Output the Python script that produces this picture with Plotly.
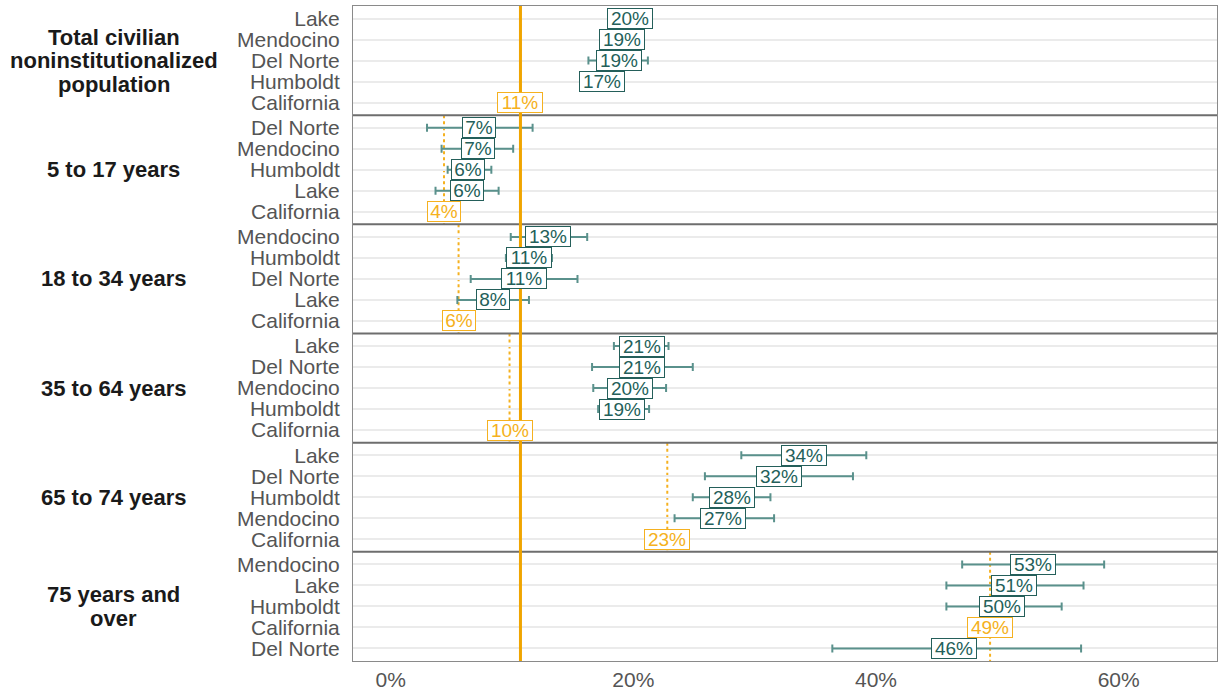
import plotly.graph_objects as go

# Grupos (paneles) de arriba hacia abajo; cada elemento es una lista de lineas
groups = [
    ["Total civilian", "noninstitutionalized", "population"],
    ["5 to 17 years"],
    ["18 to 34 years"],
    ["35 to 64 years"],
    ["65 to 74 years"],
    ["75 years and", "over"],
]

# Condados por panel (orden de arriba hacia abajo)
counties = [
    ["Lake", "Mendocino", "Del Norte", "Humboldt", "California"],
    ["Del Norte", "Mendocino", "Humboldt", "Lake", "California"],
    ["Mendocino", "Humboldt", "Del Norte", "Lake", "California"],
    ["Lake", "Del Norte", "Mendocino", "Humboldt", "California"],
    ["Lake", "Del Norte", "Humboldt", "Mendocino", "California"],
    ["Mendocino", "Lake", "Humboldt", "California", "Del Norte"],
]

# Estimaciones (%)
estimates = [
    [19.7, 19.1, 18.8, 17.4, 10.7],
    [7.3, 7.2, 6.4, 6.3, 4.4],
    [13.0, 11.4, 11.0, 8.4, 5.6],
    [20.7, 20.7, 19.7, 19.1, 9.8],
    [34.1, 32.0, 28.1, 27.4, 22.8],
    [52.9, 51.4, 50.4, 49.4, 46.4],
]

# Limites inferiores y superiores del margen de error (None = sin barra)
lower = [
    [19.0, 18.4, 16.3, 16.8, None],
    [3.0, 4.2, 4.7, 3.7, None],
    [9.9, 9.5, 6.6, 5.5, None],
    [18.4, 16.6, 16.7, 17.1, None],
    [28.9, 25.9, 24.9, 23.4, None],
    [47.1, 45.8, 45.8, None, 36.4],
]
upper = [
    [20.4, 19.8, 21.2, 18.0, None],
    [11.7, 10.1, 8.3, 8.9, None],
    [16.2, 13.3, 15.4, 11.4, None],
    [22.9, 24.9, 22.7, 21.3, None],
    [39.2, 38.1, 31.3, 31.6, None],
    [58.8, 57.1, 55.3, None, 56.9],
]

state_total = 10.7
x_ticks = [0, 20, 40, 60]

TEAL = "#245f5a"
TEAL_BAR = "#5a918c"
ORANGE = "#F5B120"
ORANGE_LINE = "#F0A500"
FONT = "Liberation Sans"

PANEL = 5.2  # altura de cada panel en unidades del eje y
LINE_H = 23.5  # interlineado de las etiquetas de grupo (px)

fig = go.Figure()
shapes = []
annotations = []
tickvals, ticktext = [], []
bx, by, bplus, bminus = [], [], [], []

for k, grp in enumerate(groups):
    top = k * PANEL
    for i, (name, est, lo, hi) in enumerate(zip(counties[k], estimates[k], lower[k], upper[k])):
        y = top + 0.6 + i
        tickvals.append(y)
        ticktext.append(name)
        is_ca = name == "California"
        if lo is not None:
            bx.append(est)
            by.append(y)
            bplus.append(hi - est)
            bminus.append(est - lo)
        if is_ca:
            shapes.append(dict(type="line", xref="x", yref="y", x0=est, x1=est,
                               y0=top, y1=top + PANEL, layer="below",
                               line=dict(color=ORANGE, width=2, dash="dot")))
        label = f"{round(est)}%"
        annotations.append(dict(
            x=est, y=y, xref="x", yref="y", text=label,
            showarrow=False, font=dict(family=FONT, size=19, color=ORANGE if is_ca else TEAL),
            bgcolor="white", bordercolor=ORANGE if is_ca else TEAL,
            borderwidth=1, borderpad=0,
            width=12 * (len(label) - 1) + 20, height=19,
        ))
    n = len(grp)
    for j, line in enumerate(grp):
        annotations.append(dict(
            x=-0.277, y=top + PANEL / 2, xref="paper", yref="y", text=f"<b>{line}</b>",
            showarrow=False, xanchor="center", yanchor="middle",
            yshift=((n - 1) / 2 - j) * LINE_H,
            font=dict(family=FONT, size=22, color="#1a1a1a"),
        ))
    if k > 0:
        shapes.append(dict(type="line", xref="paper", yref="y", x0=0, x1=1,
                           y0=top, y1=top, line=dict(color="#6e6e6e", width=2)))

shapes.append(dict(type="line", xref="x", yref="paper", x0=state_total, x1=state_total,
                   y0=0, y1=1, line=dict(color=ORANGE_LINE, width=3)))

fig.add_trace(go.Scatter(
    x=bx, y=by, mode="markers",
    marker=dict(size=1, color="rgba(0,0,0,0)"),
    error_x=dict(type="data", symmetric=False, array=bplus, arrayminus=bminus,
                 color=TEAL_BAR, thickness=2, width=4),
    hoverinfo="skip", showlegend=False,
))

fig.update_layout(
    width=1219, height=692,
    margin=dict(l=353, r=2, t=6, b=31),
    plot_bgcolor="white", paper_bgcolor="white",
    shapes=shapes, annotations=annotations,
    showlegend=False,
    font=dict(family=FONT),
)
fig.update_xaxes(
    range=[-3.1, 68.1], tickvals=x_ticks, ticktext=[f"{t}%" for t in x_ticks],
    showgrid=False, zeroline=False, showline=True, mirror=True, linecolor="#8a8a8a",
    tickfont=dict(size=21, color="#555555"), ticks="",
)
fig.update_yaxes(
    range=[len(groups) * PANEL, 0], tickvals=tickvals, ticktext=ticktext,
    showgrid=True, gridcolor="#ebebeb", gridwidth=2, zeroline=False,
    showline=True, mirror=True, linecolor="#8a8a8a",
    tickfont=dict(size=21, color="#555555"), ticks="", ticklabelstandoff=8,
)

fig.write_html("out.html", config={"displayModeBar": False},
               post_script="document.body.style.margin='0';")
